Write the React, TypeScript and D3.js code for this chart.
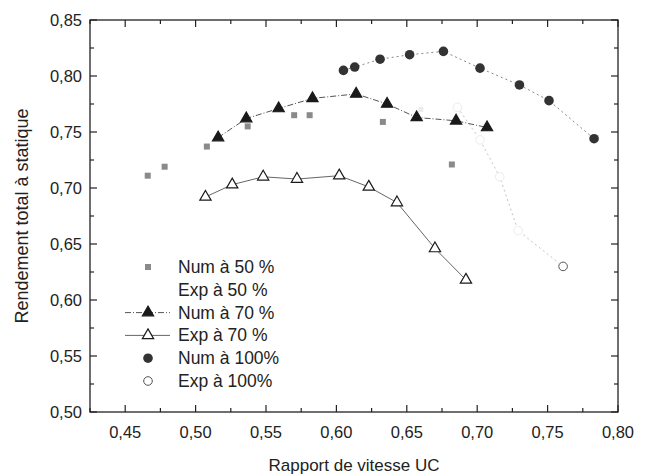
import React from 'react';
import * as d3 from 'd3';

// values
const num50X = [0.466, 0.478, 0.508, 0.537, 0.570, 0.581, 0.633, 0.682];
const num50Y = [0.711, 0.719, 0.737, 0.755, 0.765, 0.765, 0.759, 0.721];

const exp50X = [0.660, 0.687];
const exp50Y = [0.770, 0.771];

const num70X = [0.516, 0.536, 0.559, 0.583, 0.614, 0.636, 0.657, 0.685, 0.707];
const num70Y = [0.745, 0.762, 0.771, 0.780, 0.784, 0.775, 0.763, 0.760, 0.754];

const exp70X = [0.507, 0.526, 0.548, 0.572, 0.602, 0.623, 0.643, 0.670, 0.692];
const exp70Y = [0.692, 0.703, 0.710, 0.708, 0.711, 0.701, 0.687, 0.646, 0.618];

const num100X = [0.605, 0.613, 0.631, 0.652, 0.676, 0.702, 0.730, 0.751, 0.783];
const num100Y = [0.805, 0.808, 0.815, 0.819, 0.822, 0.807, 0.792, 0.778, 0.744];

const exp100X = [0.686, 0.702, 0.716, 0.729, 0.761];
const exp100Y = [0.772, 0.743, 0.710, 0.662, 0.630];

const xTicks = [0.45, 0.5, 0.55, 0.6, 0.65, 0.7, 0.75, 0.8];
const yTicks = [0.5, 0.55, 0.6, 0.65, 0.7, 0.75, 0.8, 0.85];

const legendLabels = ['Num à 50 %', 'Exp à 50 %', 'Num à 70 %', 'Exp à 70 %', 'Num à 100%', 'Exp à 100%'];

const width = 650;
const height = 475;
const margin = { top: 20, right: 32, bottom: 63, left: 90 };

const x = d3.scaleLinear().domain([0.425, 0.8]).range([margin.left, width - margin.right]);
const y = d3.scaleLinear().domain([0.5, 0.85]).range([height - margin.bottom, margin.top]);

const fmt = (d: number) => d.toFixed(2).replace('.', ',');
const zip = (xs: number[], ys: number[]) => xs.map((v, i) => [v, ys[i]] as [number, number]);

const line = d3.line<[number, number]>().x(d => x(d[0])).y(d => y(d[1]));
const tri = d3.symbol().type(d3.symbolTriangle).size(55)();

const ink = '#222';

const Triangle = ({ cx, cy, filled }: { cx: number; cy: number; filled: boolean }) => (
  <path d={tri || ''} transform={`translate(${cx},${cy})`}
    fill={filled ? '#1a1a1a' : '#fff'} stroke="#1a1a1a" strokeWidth={1.2} />
);

export default function App() {
  const x0 = margin.left, x1 = width - margin.right;
  const y0 = height - margin.bottom, y1 = margin.top;
  const xMinor = d3.range(0.425, 0.8001, 0.025);
  const yMinor = d3.range(0.5, 0.8501, 0.025);

  const legendX = 148;
  const legendY = (i: number) => 267 + i * 22.8;

  return (
    <svg width={width} height={height}
      style={{ position: 'absolute', left: 0, top: 0, background: '#fff' }}
      fontFamily="'Liberation Sans', Arial, sans-serif">

      {/* frame */}
      <rect x={x0} y={y1} width={x1 - x0} height={y0 - y1} fill="none" stroke={ink} strokeWidth={1.3} />

      {/* ticks, inward on all four sides */}
      {xMinor.map((t, i) => {
        const len = xTicks.some(v => Math.abs(v - t) < 1e-6) ? 7 : 4;
        return (
          <g key={`xt${i}`} stroke={ink} strokeWidth={1.2}>
            <line x1={x(t)} x2={x(t)} y1={y0} y2={y0 - len} />
            <line x1={x(t)} x2={x(t)} y1={y1} y2={y1 + len} />
          </g>
        );
      })}
      {yMinor.map((t, i) => {
        const len = yTicks.some(v => Math.abs(v - t) < 1e-6) ? 7 : 4;
        return (
          <g key={`yt${i}`} stroke={ink} strokeWidth={1.2}>
            <line x1={x0} x2={x0 + len} y1={y(t)} y2={y(t)} />
            <line x1={x1} x2={x1 - len} y1={y(t)} y2={y(t)} />
          </g>
        );
      })}

      {xTicks.map(t => (
        <text key={`xl${t}`} x={x(t)} y={y0 + 26} textAnchor="middle" fontSize={16.5} fill={ink}>{fmt(t)}</text>
      ))}
      {yTicks.map(t => (
        <text key={`yl${t}`} x={x0 - 8} y={y(t) + 6} textAnchor="end" fontSize={16.5} fill={ink}>{fmt(t)}</text>
      ))}

      <text x={(x0 + x1) / 2} y={height - 4} textAnchor="middle" fontSize={17} fill={ink}>Rapport de vitesse UC</text>
      <text transform={`translate(28,${(y0 + y1) / 2}) rotate(-90)`} textAnchor="middle" fontSize={18} fill={ink}>
        Rendement total à statique
      </text>

      {/* lines */}
      <path d={line(zip(num70X, num70Y)) || ''} fill="none" stroke="#555" strokeWidth={1} strokeDasharray="6,2,1,2" />
      <path d={line(zip(exp70X, exp70Y)) || ''} fill="none" stroke="#666" strokeWidth={1} />
      <path d={line(zip(num100X, num100Y)) || ''} fill="none" stroke="#888" strokeWidth={1} strokeDasharray="2,3" />
      <path d={line(zip(exp100X, exp100Y)) || ''} fill="none" stroke="#c4c4c4" strokeWidth={1} strokeDasharray="2,3" />

      {/* Exp 50 %: almost washed out in the scan */}
      {zip(exp50X, exp50Y).map((d, i) => (
        <rect key={`e50${i}`} x={x(d[0]) - 2.5} y={y(d[1]) - 2.5} width={5} height={5} fill="#ececec" />
      ))}

      {/* markers */}
      {zip(num50X, num50Y).map((d, i) => (
        <rect key={`n50${i}`} x={x(d[0]) - 3} y={y(d[1]) - 3} width={6} height={6} fill="#8a8a8a" />
      ))}
      {zip(num70X, num70Y).map((d, i) => <Triangle key={`n70${i}`} cx={x(d[0])} cy={y(d[1])} filled />)}
      {zip(exp70X, exp70Y).map((d, i) => <Triangle key={`e70${i}`} cx={x(d[0])} cy={y(d[1])} filled={false} />)}
      {zip(num100X, num100Y).map((d, i) => (
        <circle key={`n100${i}`} cx={x(d[0])} cy={y(d[1])} r={4.8} fill="#333" />
      ))}
      {zip(exp100X, exp100Y).map((d, i) => (
        <circle key={`e100${i}`} cx={x(d[0])} cy={y(d[1])} r={4.3} fill="#fff"
          stroke={i === exp100X.length - 1 ? '#555' : '#ececec'} strokeWidth={1} />
      ))}

      {/* legend */}
      <g fontSize={17.5} fill={ink}>
        {legendLabels.map((lab, i) => (
          <text key={lab} x={178} y={legendY(i) + 6}>{lab}</text>
        ))}
        <rect x={legendX - 3} y={legendY(0) - 3} width={6} height={6} fill="#8a8a8a" />
        <line x1={125} x2={170} y1={legendY(2)} y2={legendY(2)} stroke="#555" strokeDasharray="6,2,1,2" />
        <Triangle cx={legendX} cy={legendY(2)} filled />
        <line x1={125} x2={170} y1={legendY(3)} y2={legendY(3)} stroke="#666" />
        <Triangle cx={legendX} cy={legendY(3)} filled={false} />
        <circle cx={legendX} cy={legendY(4)} r={4.8} fill="#333" />
        <circle cx={legendX} cy={legendY(5)} r={4.3} fill="#fff" stroke="#555" />
      </g>
    </svg>
  );
}
